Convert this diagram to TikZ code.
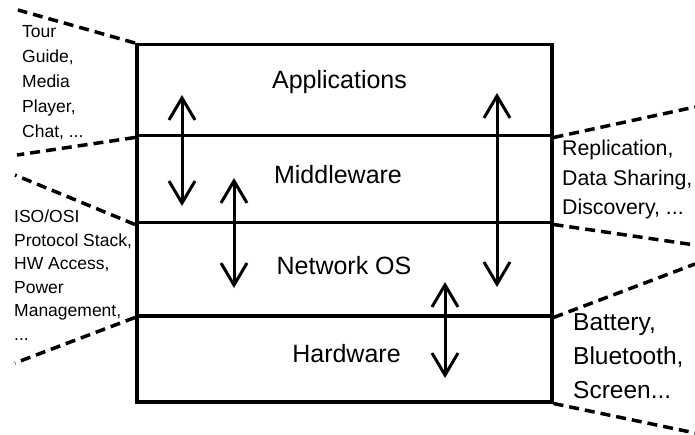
\documentclass[tikz,border=0pt]{standalone}
\usepackage{fontspec}
\setmainfont{Liberation Sans}
\usetikzlibrary{arrows.meta}
\begin{document}
\begin{tikzpicture}[x=1pt,y=-1pt,
  layer/.style={draw,line width=3.5pt,minimum width=415pt,inner sep=0pt,anchor=north west},
  lbl/.style={font=\fontsize{25}{30}\selectfont,anchor=base,inner sep=0pt},
  dashline/.style={line width=3.5pt,dash pattern=on 10pt off 6pt},
  dbl/.style={line width=3pt,{Straight Barb[length=22pt,width=26pt]}-{Straight Barb[length=22pt,width=26pt]}},
  note/.style={anchor=north west,inner sep=0pt,align=left}]
\useasboundingbox (0,0) rectangle (695,435);
% layers
\node[layer,minimum height=91pt] (app) at (135,43) {};
\node[layer,minimum height=87pt] (mid) at (135,134) {};
\node[layer,minimum height=93pt] (nos) at (135,221) {};
\node[layer,minimum height=86pt] (hw) at (135,314) {};
% labels
\node[lbl] (tapp) at (339.5,89) {Applications};
\node[lbl] (tmidl) at (338,184) {Middleware};
\node[lbl] (tnosl) at (344,275) {Network OS};
\node[lbl] (thwl) at (346.5,362) {Hardware};
% arrows
\coordinate (a1t) at (182,95);  \coordinate (a1b) at (182,206);
\coordinate (a2t) at (234,178); \coordinate (a2b) at (234,288);
\coordinate (a3t) at (497,93);  \coordinate (a3b) at (497,287);
\coordinate (a4t) at (445,282); \coordinate (a4b) at (445,378);
\draw[dbl] (a1t) -- (a1b);
\draw[dbl] (a2t) -- (a2b);
\draw[dbl] (a3t) -- (a3b);
\draw[dbl] (a4t) -- (a4b);
% dashed callout lines
\coordinate (l1) at (18,10);
\coordinate (l2) at (17,155);
\coordinate (l3) at (15,175);
\coordinate (l4) at (15,363);
\coordinate (r1) at (695,107);
\coordinate (r2) at (695,245);
\coordinate (r3) at (695,264);
\coordinate (r4) at (695,433);
\draw[dashline] (app.north west) -- (l1);
\draw[dashline] (app.south west) -- (l2);
\draw[dashline] (mid.south west) -- (l3);
\draw[dashline] (nos.south west) -- (l4);
\draw[dashline] (app.south east) -- (r1);
\draw[dashline] (mid.south east) -- (r2);
\draw[dashline] (nos.south east) -- (r3);
\draw[dashline] (hw.south east) -- (r4);
% notes
\node[note,font=\fontsize{17.5}{25}\selectfont] (tapps) at (22,25) {Tour\\Guide,\\Media\\Player,\\Chat, ...};
\node[note,font=\fontsize{17.5}{23.5}\selectfont] (tnos) at (14,210) {ISO/OSI\\Protocol Stack,\\HW Access,\\Power\\Management,\\...};
\node[note,font=\fontsize{21.3}{29.5}\selectfont] (tmid) at (562,140) {Replication,\\Data Sharing,\\Discovery, ...};
\node[note,font=\fontsize{24.5}{34}\selectfont] (thw) at (573,313) {Battery,\\Bluetooth,\\Screen...};
\end{tikzpicture}
\end{document}
